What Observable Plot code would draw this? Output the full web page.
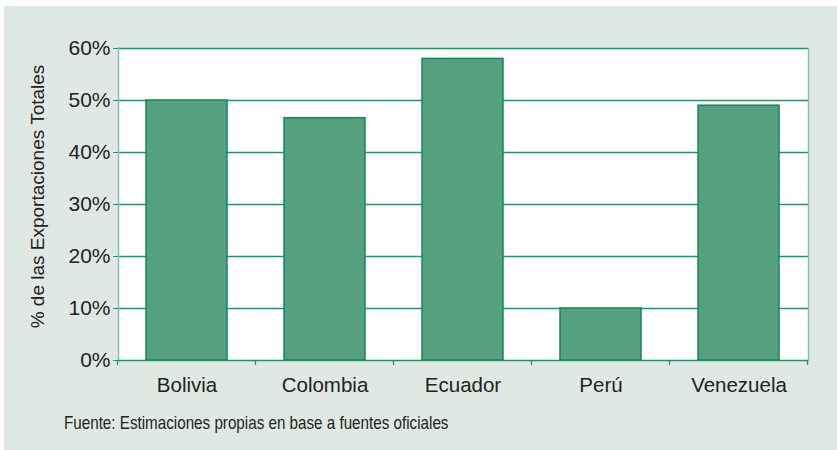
<!DOCTYPE html>
<html>
<head>
<meta charset="utf-8">
<script src="https://cdn.jsdelivr.net/npm/d3@7"></script>
<script src="https://cdn.jsdelivr.net/npm/@observablehq/plot@0.6"></script>
<style>
  html, body { margin: 0; padding: 0; background: #ffffff; }
  #wrap { position: absolute; left: 4px; top: 6px; width: 833px; height: 444px; background: #e0e8e4; font-family: "Liberation Sans", Arial, sans-serif; }
  #caption { position: absolute; left: 60px; top: 406px; font-size: 19px; color: #222; white-space: nowrap; transform: scaleX(0.8); transform-origin: 0 50%; }
</style>
</head>
<body>
<div id="wrap"><div id="chart"></div><div id="caption">Fuente: Estimaciones propias en base a fuentes oficiales</div></div>
<script>
const categories = ["Bolivia", "Colombia", "Ecuador", "Perú", "Venezuela"];
const values = [50, 46.6, 58, 10, 49];
const yTicks = [0, 10, 20, 30, 40, 50, 60];
const yLabel = "% de las Exportaciones Totales";

const data = categories.map((c, i) => ({country: c, value: values[i]}));

const gridColor = "#2f8d68";
const axisColor = "#86c2a5";
const barFill = "#55a07e";
const barStroke = "#13885a";

const plot = Plot.plot({
  width: 833,
  height: 400,
  marginLeft: 114,
  marginRight: 29,
  marginTop: 42,
  marginBottom: 46,
  style: {background: "transparent", fontFamily: "'Liberation Sans', Arial, sans-serif", color: "#222"},
  x: {domain: categories, paddingInner: 0.41, paddingOuter: 0.205, label: null, axis: null},
  y: {domain: [0, 60], label: null, axis: null},
  marks: [
    Plot.frame({fill: "white", stroke: null}),
    Plot.ruleY(yTicks.filter(t => t > 0), {stroke: gridColor, strokeWidth: 1.3}),
    Plot.frame({anchor: "left", stroke: axisColor, strokeWidth: 1.5}),
    Plot.frame({anchor: "right", stroke: axisColor, strokeWidth: 1.5}),
    Plot.barY(data, {x: "country", y: "value", fill: barFill, stroke: barStroke, strokeWidth: 1.5}),
    Plot.ruleY([0], {stroke: gridColor, strokeWidth: 1.3}),
    Plot.axisY({ticks: yTicks, tickFormat: d => d + "%", tickSize: 5, tickPadding: 3, fontSize: 21, stroke: gridColor, fill: "#222", label: null}),
    Plot.axisX({tickSize: 0, tickPadding: 17, fontSize: 20.5, fill: "#222", label: null}),
    Plot.text([yLabel], {frameAnchor: "left", rotate: -90, dx: -81, dy: -8, textAnchor: "middle", fontSize: 19, fill: "#222"})
  ]
});

// boundary tick marks on the category axis, computed from the band scale
const xs = plot.scale("x");
const ys = plot.scale("y");
const step = xs.step;
const gap = (step - xs.bandwidth) / 2;
const bounds = categories.map(c => xs.apply(c) - gap);
bounds.push(xs.apply(categories[categories.length - 1]) + xs.bandwidth + gap);
const y0 = ys.apply(0);
d3.select(plot).append("g")
  .selectAll("line").data(bounds).join("line")
  .attr("x1", d => d).attr("x2", d => d)
  .attr("y1", y0).attr("y2", y0 + 5)
  .attr("stroke", gridColor).attr("stroke-width", 1.3);

document.getElementById("chart").appendChild(plot);
</script>
</body>
</html>
